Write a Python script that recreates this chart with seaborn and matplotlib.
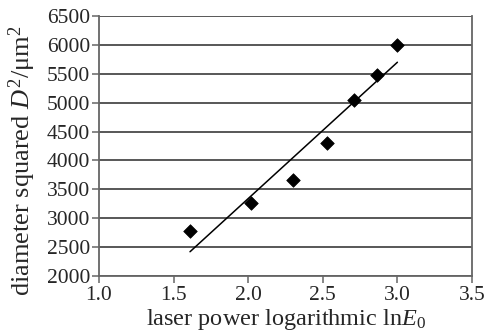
import numpy as np
import pandas as pd
import matplotlib
matplotlib.use("Agg")
import matplotlib.pyplot as plt
import seaborn as sns

ln_E0 = [1.61, 2.02, 2.30, 2.53, 2.71, 2.86, 3.00]
D2 = [2780, 3270, 3660, 4300, 5040, 5480, 6000]
x_ticks = [1.0, 1.5, 2.0, 2.5, 3.0, 3.5]
y_ticks = [2000, 2500, 3000, 3500, 4000, 4500, 5000, 5500, 6000, 6500]

df = pd.DataFrame({"lnE0": ln_E0, "D2": D2})

sns.set_style("white")
plt.rcParams["font.family"] = ["Liberation Serif", "DejaVu Serif"]
plt.rcParams["mathtext.fontset"] = "custom"
plt.rcParams["mathtext.rm"] = "Liberation Serif"
plt.rcParams["mathtext.it"] = "Liberation Serif:italic"

fig = plt.figure(figsize=(4.84, 3.36), dpi=100)
ax = fig.add_axes([99 / 484, 1 - 276 / 336, (472 - 99) / 484, (276 - 16) / 336])

sns.regplot(data=df, x="lnE0", y="D2", ax=ax, ci=None, truncate=True,
            marker="D", color="black",
            scatter_kws={"s": 48, "edgecolor": "black", "linewidths": 0.5,
                         "alpha": 1.0},
            line_kws={"linewidth": 1.1, "color": "black"})

ax.set_xlim(1.0, 3.5)
ax.set_ylim(2000, 6500)
ax.set_xticks(x_ticks)
ax.set_xticklabels([f"{v:.1f}" for v in x_ticks])
ax.set_yticks(y_ticks)
ax.set_yticklabels([str(v) for v in y_ticks])
ax.yaxis.grid(True, color="#2a2a2a", linewidth=1.1)
ax.set_axisbelow(True)
for s in ["left", "bottom", "right"]:
    ax.spines[s].set_visible(True)
    ax.spines[s].set_color("#666666")
    ax.spines[s].set_linewidth(1.3)
ax.spines["top"].set_visible(False)
ax.tick_params(axis="both", which="major", direction="out", length=5, width=1.1,
               color="#666666", labelsize=15.5, left=True, bottom=True)
ax.tick_params(axis="y", pad=1.5)
ax.tick_params(axis="x", pad=2)

ax.set_xlabel(r"laser power logarithmic ln$E_0$", fontsize=17.5)
ax.xaxis.label.set_verticalalignment("baseline")
ax.xaxis.set_label_coords(0.5, (276 - 325) / 260)

ax.set_ylabel(r"diameter squared $D^2$/μm$^2$", fontsize=19)
ax.yaxis.label.set_verticalalignment("center")
ax.yaxis.set_label_coords((22 - 99) / 373, (276 - 161) / 260)

fig.savefig("out.png", dpi=100)
